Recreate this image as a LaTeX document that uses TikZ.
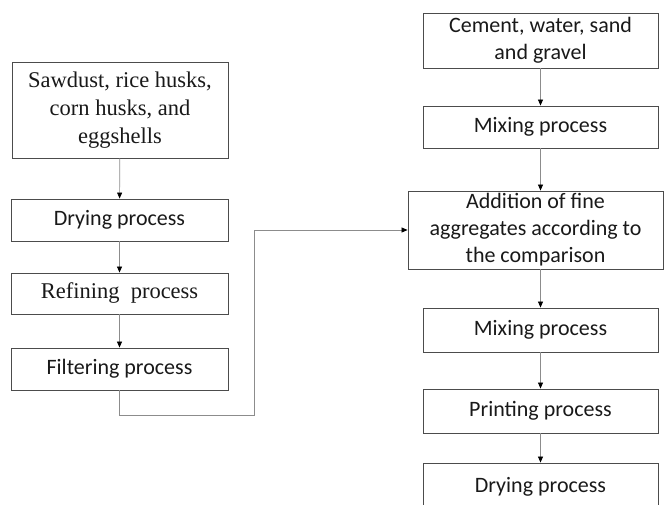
\documentclass[tikz,border=0pt]{standalone}
\usepackage{fontspec}
\setmainfont{Carlito}
\newfontfamily\timesfont{Liberation Serif}
\usetikzlibrary{arrows.meta}

\begin{document}
\begin{tikzpicture}[x=1pt,y=-1pt,
	stepbox/.style={draw=black!70, line width=0.9pt, align=center, inner sep=2pt,
		font=\fontsize{22}{27}\selectfont, text=black!90},
	flow/.style={draw=black!45, line width=0.7pt, -{Triangle[length=6pt,width=5pt,fill=black,color=black]}}]
	\useasboundingbox (0,0) rectangle (664,504);

	% left column
	\node[stepbox, minimum width=216pt, minimum height=96pt, font=\timesfont\fontsize{22.5}{28}\selectfont] (raw) at (120,110) {Sawdust, rice husks,\\corn husks, and\\eggshells};
	\node[stepbox, minimum width=217pt, minimum height=42pt] (dry1) at (119.5,220) {Drying process};
	\node[stepbox, minimum width=217pt, minimum height=41pt, font=\timesfont\fontsize{22.5}{28}\selectfont] (refine) at (119.5,293.5) {Refining\ \ process};
	\node[stepbox, minimum width=217pt, minimum height=42pt] (filter) at (119.5,369) {Filtering process};

	% right column
	\node[stepbox, minimum width=235pt, minimum height=55pt] (cement) at (540.5,40.5) {Cement, water, sand\\and gravel};
	\node[stepbox, minimum width=235pt, minimum height=42pt] (mix1) at (540.5,127) {Mixing process};
	\node[stepbox, minimum width=255pt, minimum height=78pt] (add) at (535.5,230) {Addition of fine\\aggregates according to\\the comparison};
	\node[stepbox, minimum width=235pt, minimum height=44pt] (mix2) at (540.5,330) {Mixing process};
	\node[stepbox, minimum width=235pt, minimum height=44pt] (print) at (540.5,411) {Printing process};
	\node[stepbox, minimum width=235pt, minimum height=48pt] (dry2) at (540.5,487) {Drying process};

	\coordinate (turn) at (254,415);

	\draw[flow] (raw) -- (dry1);
	\draw[flow] (dry1) -- (refine);
	\draw[flow] (refine) -- (filter);
	\draw[flow] (filter.south) |- (turn) |- (add.west);

	\draw[flow] (cement) -- (mix1);
	\draw[flow] (mix1) -- (mix1 |- add.north);
	\draw[flow] (mix2 |- add.south) -- (mix2);
	\draw[flow] (mix2) -- (print);
	\draw[flow] (print) -- (dry2);
\end{tikzpicture}
\end{document}
